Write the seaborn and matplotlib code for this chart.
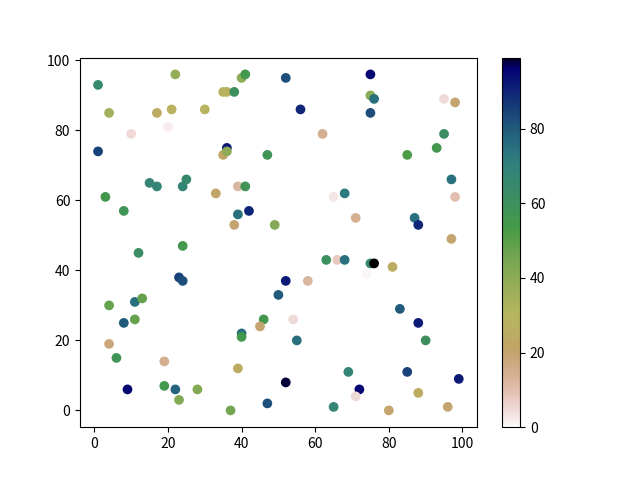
import matplotlib
matplotlib.use("Agg")
import matplotlib.pyplot as plt
import seaborn as sns
import numpy as np
import pandas as pd

plt.rcParams['font.family'] = ['Noto Sans CJK SC', 'DejaVu Sans']

x_vals = [1, 4, 10, 1, 3, 8, 15, 17, 12, 22, 17, 21, 20, 30, 35, 36, 38, 40, 41, 36,
          35, 36, 24, 25, 33, 39, 41, 39, 42, 38, 47, 49, 52, 56, 62, 75, 75, 76, 75, 95,
          98, 95, 93, 85, 87, 88, 97, 98, 97, 68, 65, 71, 63, 66, 68, 75, 76, 81, 52, 58,
          50, 54, 55, 46, 45, 40, 40, 23, 24, 24, 4, 11, 13, 8, 11, 4, 6, 19, 9, 19,
          22, 23, 28, 37, 39, 47, 52, 65, 69, 72, 71, 80, 83, 85, 88, 90, 88, 96, 99, 74]
y_vals = [93, 85, 79, 74, 61, 57, 65, 64, 45, 96, 85, 86, 81, 86, 91, 91, 91, 95, 96, 75,
          73, 74, 64, 66, 62, 64, 64, 56, 57, 53, 73, 53, 95, 86, 79, 96, 90, 89, 85, 89,
          88, 79, 75, 73, 55, 53, 66, 61, 49, 62, 61, 55, 43, 43, 43, 42, 42, 41, 37, 37,
          33, 26, 20, 26, 24, 22, 21, 38, 37, 47, 30, 31, 32, 25, 26, 19, 15, 14, 6, 7,
          6, 3, 6, 0, 12, 2, 8, 1, 11, 6, 4, 0, 29, 11, 25, 20, 5, 1, 9, 39]
c_vals = [65, 35, 5, 85, 55, 58, 68, 68, 62, 38, 25, 28, 2, 28, 28, 28, 60, 40, 55, 92,
          22, 40, 68, 65, 22, 12, 58, 75, 90, 20, 58, 42, 82, 90, 15, 95, 40, 75, 82, 5,
          20, 62, 55, 52, 75, 90, 75, 10, 20, 72, 3, 15, 60, 8, 75, 65, 99, 25, 92, 12,
          80, 5, 75, 55, 20, 75, 55, 85, 82, 55, 48, 75, 48, 80, 48, 18, 58, 15, 95, 55,
          78, 42, 42, 45, 25, 82, 98, 68, 68, 95, 5, 20, 80, 85, 92, 60, 25, 20, 92, 1]

df = pd.DataFrame({"x": x_vals, "y": y_vals, "c": c_vals})

fig, ax = plt.subplots(figsize=(6.4, 4.8), dpi=100)
norm = matplotlib.colors.Normalize(vmin=0, vmax=99)
cmap = plt.get_cmap("gist_earth_r")
sns.scatterplot(data=df, x="x", y="y", hue="c", palette=cmap, hue_norm=norm,
                legend=False, s=36, linewidth=1.0, edgecolor="face", ax=ax)
ax.set_xlabel("")
ax.set_ylabel("")
ax.set_xticks([0, 20, 40, 60, 80, 100])
ax.set_yticks([0, 20, 40, 60, 80, 100])
sm = matplotlib.cm.ScalarMappable(norm=norm, cmap=cmap)
sm.set_array([])
fig.colorbar(sm, ax=ax)
fig.savefig("out.png", dpi=100)
